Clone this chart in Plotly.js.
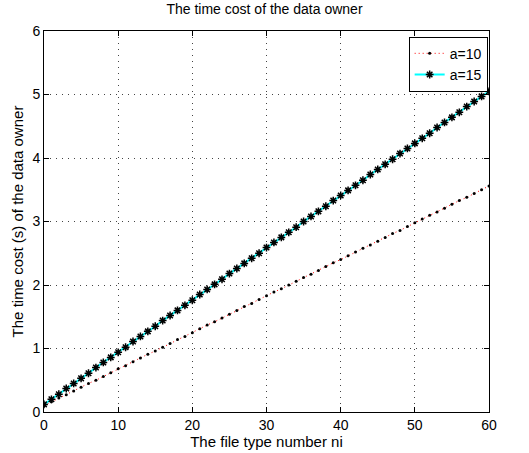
<!DOCTYPE html>
<html>
<head>
<meta charset="utf-8">
<script src="https://cdn.plot.ly/plotly-3.0.1.min.js"></script>
<style>html,body{margin:0;padding:0;background:#fff;}#chart{width:529px;height:453px;}</style>
</head>
<body>
<div id="chart"></div>
<script>
var fileTypes = [0,1,2,3,4,5,6,7,8,9,10,11,12,13,14,15,16,17,18,19,20,21,22,23,24,25,26,27,28,29,30,31,32,33,34,35,36,37,38,39,40,41,42,43,44,45,46,47,48,49,50,51,52,53,54,55,56,57,58,59,60];
var costA10 = [0.10,0.16,0.22,0.27,0.33,0.39,0.45,0.50,0.56,0.62,0.68,0.73,0.79,0.85,0.91,0.96,1.02,1.08,1.14,1.19,1.25,1.31,1.37,1.42,1.48,1.54,1.60,1.66,1.71,1.77,1.83,1.89,1.94,2.00,2.06,2.12,2.17,2.23,2.29,2.35,2.40,2.46,2.52,2.58,2.63,2.69,2.75,2.81,2.86,2.92,2.98,3.04,3.10,3.15,3.21,3.27,3.33,3.38,3.44,3.50,3.56];
var costA15 = [0.12,0.20,0.28,0.37,0.45,0.53,0.61,0.70,0.78,0.86,0.94,1.02,1.11,1.19,1.27,1.35,1.44,1.52,1.60,1.68,1.76,1.85,1.93,2.01,2.09,2.18,2.26,2.34,2.42,2.50,2.59,2.67,2.75,2.83,2.91,3.00,3.08,3.16,3.24,3.33,3.41,3.49,3.57,3.65,3.74,3.82,3.90,3.98,4.07,4.15,4.23,4.31,4.39,4.48,4.56,4.64,4.72,4.81,4.89,4.97,5.05];
var seriesNames = ['a=10','a=15'];
var xTicks = [0,10,20,30,40,50,60];
var yTicks = [0,1,2,3,4,5,6];

var traces = [
  {x: fileTypes, y: costA10, name: seriesNames[0], mode: 'lines+markers', type: 'scatter',
   line: {color: '#ff0000', width: 1, dash: '1px,3px'},
   marker: {symbol: 'circle', size: 3, color: '#000'}},
  {x: fileTypes, y: costA15, name: seriesNames[1], mode: 'lines+markers', type: 'scatter',
   line: {color: '#00ffff', width: 2},
   marker: {symbol: 'asterisk-open', size: 6.5, color: '#000', line: {color: '#000', width: 1.5}}}
];

var axisCommon = {
  showline: true, mirror: 'ticks', linecolor: '#000', linewidth: 1,
  ticks: 'inside', ticklen: 5, tickcolor: '#000',
  showgrid: true, gridcolor: '#444', griddash: '1px,5px', gridwidth: 1,
  zeroline: false, tickfont: {family: 'Liberation Sans, Arial', size: 14, color: '#000'}
};

var layout = {
  width: 529, height: 453,
  margin: {l: 44, r: 40, t: 31, b: 41},
  paper_bgcolor: '#fff', plot_bgcolor: '#fff',
  font: {family: 'Liberation Sans, Arial', color: '#000'},
  title: {text: 'The time cost of the data owner', font: {size: 14, color: '#000'}, x: 0.5, xanchor: 'center', y: 0.99, yanchor: 'top'},
  xaxis: Object.assign({}, axisCommon, {range: [0, 60], tickvals: xTicks, ticktext: xTicks.map(String),
    title: {text: 'The file type number ni', font: {size: 15, color: '#000'}, standoff: 2}}),
  yaxis: Object.assign({}, axisCommon, {range: [0, 6], tickvals: yTicks, ticktext: yTicks.map(String),
    title: {text: 'The time cost (s) of the data owner', font: {size: 15, color: '#000'}, standoff: 5}}),
  showlegend: true,
  legend: {x: 0.997, xanchor: 'right', y: 0.985, yanchor: 'top', bgcolor: '#fff', bordercolor: '#000', borderwidth: 1,
    font: {size: 14, color: '#000'}, tracegroupgap: 0}
};

Plotly.newPlot('chart', traces, layout, {displayModeBar: false, staticPlot: true});
</script>
</body>
</html>
